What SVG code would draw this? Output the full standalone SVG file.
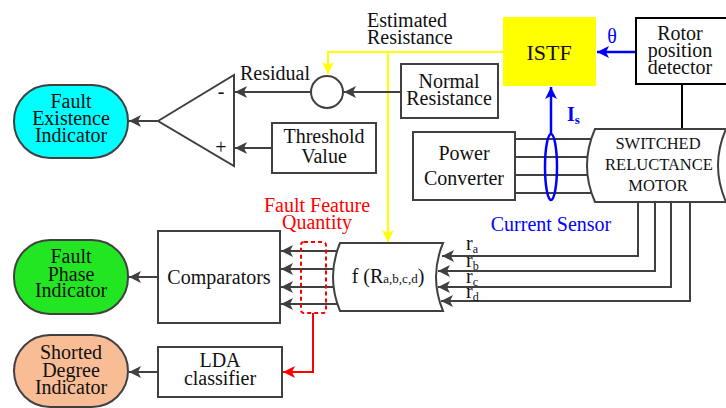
<svg xmlns="http://www.w3.org/2000/svg" width="726" height="408" viewBox="0 0 726 408">
<defs>
<style>
text{font-family:'Liberation Serif','Times New Roman',serif;font-size:20px;fill:#111;text-anchor:middle}
.box{fill:#fff;stroke:#404040;stroke-width:2}
.ln{fill:none;stroke:#404040;stroke-width:2}
.y{fill:none;stroke:#ffff00;stroke-width:2}
.b{fill:none;stroke:#0000ff;stroke-width:2.5}
.r{fill:none;stroke:#ff0000;stroke-width:2}
.pill{stroke:#404040;stroke-width:2}
</style>
<marker id="ag" markerUnits="userSpaceOnUse" markerWidth="14" markerHeight="12" refX="12" refY="6" orient="auto"><path d="M0,0 L12,6 L0,12 L3,6 Z" fill="#404040"/></marker>
<marker id="ay" markerUnits="userSpaceOnUse" markerWidth="14" markerHeight="12" refX="12" refY="6" orient="auto"><path d="M0,0 L12,6 L0,12 L3,6 Z" fill="#ffff00"/></marker>
<marker id="ab" markerUnits="userSpaceOnUse" markerWidth="14" markerHeight="12" refX="12" refY="6" orient="auto"><path d="M0,0 L12,6 L0,12 L3,6 Z" fill="#0000ff"/></marker>
<marker id="ar" markerUnits="userSpaceOnUse" markerWidth="14" markerHeight="12" refX="12" refY="6" orient="auto"><path d="M0,0 L12,6 L0,12 L3,6 Z" fill="#ff0000"/></marker>
</defs>
<rect width="726" height="408" fill="#fff"/>

<g id="connectors">
<path class="y" d="M503,52 H328 V74" marker-end="url(#ay)"/>
<path class="y" d="M388,52 V242" marker-end="url(#ay)"/>
<path class="ln" d="M401,92 H344" marker-end="url(#ag)"/>
<path class="ln" d="M311,92 H235" marker-end="url(#ag)"/>
<path class="ln" d="M272,148 H235" marker-end="url(#ag)"/>
<path class="ln" d="M158,121 H129" marker-end="url(#ag)"/>
<path class="b" d="M636,52 H597" marker-end="url(#ab)"/>
<path class="b" d="M551,134 V87" marker-end="url(#ab)"/>
<path d="M682,84 V129" fill="none" stroke="#000" stroke-width="2"/>
<path class="ln" d="M515,139 H592 M515,157 H590 M515,175 H590 M515,193 H592"/>
<path class="ln" d="M638,202 V256 H442" marker-end="url(#ag)"/>
<path class="ln" d="M655,202 V271 H438" marker-end="url(#ag)"/>
<path class="ln" d="M671,202 V287 H438" marker-end="url(#ag)"/>
<path class="ln" d="M690,202 V301 H441" marker-end="url(#ag)"/>
<path class="ln" d="M338,251 H281" marker-end="url(#ag)"/>
<path class="ln" d="M335,269 H281" marker-end="url(#ag)"/>
<path class="ln" d="M334,287 H281" marker-end="url(#ag)"/>
<path class="ln" d="M337,304 H281" marker-end="url(#ag)"/>
<path class="r" d="M313,313 V372 H283" marker-end="url(#ar)"/>
<path class="ln" d="M158,277 H129" marker-end="url(#ag)"/>
<path class="ln" d="M158,372 H129" marker-end="url(#ag)"/>
</g>

<g id="fault-existence">
<rect class="pill" x="14" y="85" width="114" height="73" rx="36" fill="#00ffff"/>
<text x="71" y="108">Fault</text><text x="71" y="125">Existence</text><text x="71" y="142">Indicator</text>
</g>
<g id="comparator-sum">
<path class="ln" d="M158,121 L234,75 L234,166 Z" fill="#fff"/>
<text x="221" y="98">-</text><text x="221" y="154">+</text>
<text x="275" y="80">Residual</text>
</g>
<g id="sum-node"><circle cx="327" cy="92" r="16" class="box"/></g>
<g id="threshold"><rect class="box" x="272" y="123" width="104" height="50"/>
<text x="324" y="143">Threshold</text><text x="324" y="163">Value</text></g>
<g id="normal-resistance"><rect class="box" x="401" y="64" width="97" height="54"/>
<text x="449" y="88">Normal</text><text x="449" y="105">Resistance</text></g>
<g id="estimated-label"><text x="367" y="27" style="text-anchor:start">Estimated</text><text x="367" y="44" style="text-anchor:start">Resistance</text></g>
<g id="istf"><rect x="503" y="17" width="93" height="69" fill="#ffff00"/>
<text x="549" y="60" style="font-size:22px">ISTF</text></g>
<g id="theta"><text x="612" y="43" style="fill:#0000ff">θ</text></g>
<g id="rotor"><rect x="636" y="18" width="92" height="66" fill="#fff" stroke="#000" stroke-width="2"/>
<text x="680" y="40">Rotor</text><text x="680" y="57">position</text><text x="680" y="74">detector</text></g>
<g id="is-label"><text x="567" y="121" style="fill:#0000ff;font-weight:bold;text-anchor:start">I<tspan style="font-size:13px" dy="3">s</tspan></text></g>
<g id="power-converter"><rect class="box" x="413" y="132" width="102" height="68"/>
<text x="464" y="160">Power</text><text x="464" y="185">Converter</text></g>
<g id="current-sensor"><ellipse cx="551" cy="167" rx="6" ry="33" class="b"/>
<text x="551" y="231" style="fill:#0000ff">Current Sensor</text></g>
<g id="motor">
<path class="box" d="M595,129 H730 V202 H595 Q579,165.5 595,129 Z"/>
<path class="ln" d="M726,129 Q710,165.5 726,202"/>
<text x="658" y="149" style="font-size:16.5px">SWITCHED</text>
<text x="659" y="170" style="font-size:16.5px">RELUCTANCE</text>
<text x="658" y="191" style="font-size:16.5px">MOTOR</text>
</g>
<g id="r-labels">
<text x="466" y="250" style="text-anchor:start">r<tspan style="font-size:12px" dy="3">a</tspan></text>
<text x="466" y="267" style="text-anchor:start">r<tspan style="font-size:12px" dy="3">b</tspan></text>
<text x="466" y="283" style="text-anchor:start">r<tspan style="font-size:12px" dy="3">c</tspan></text>
<text x="466" y="298" style="text-anchor:start">r<tspan style="font-size:12px" dy="3">d</tspan></text>
</g>
<g id="f-block">
<path class="box" d="M340,243 H443 Q429,277 443,311 H340 Q326,277 340,243 Z"/>
<text x="388" y="283">f (R<tspan style="font-size:13px">a,b,c,d</tspan>)</text>
</g>
<g id="fault-feature">
<rect x="301" y="242" width="25" height="71" rx="3" fill="none" stroke="#ff0000" stroke-width="2" stroke-dasharray="4,3"/>
<text x="317" y="212" style="fill:#ff0000">Fault Feature</text><text x="317" y="229" style="fill:#ff0000">Quantity</text>
</g>
<g id="comparators"><rect class="box" x="158" y="231" width="122" height="92"/>
<text x="219" y="284">Comparators</text></g>
<g id="fault-phase"><rect class="pill" x="14" y="240" width="114" height="74" rx="36" fill="#22e622"/>
<text x="71" y="263">Fault</text><text x="71" y="281">Phase</text><text x="71" y="297">Indicator</text></g>
<g id="lda"><rect class="box" x="158" y="347" width="124" height="50"/>
<text x="220" y="367">LDA</text><text x="220" y="385">classifier</text></g>
<g id="shorted-degree"><rect class="pill" x="14" y="335" width="114" height="72" rx="36" fill="#f9bd96"/>
<text x="71" y="359">Shorted</text><text x="71" y="377">Degree</text><text x="71" y="394">Indicator</text></g>
</svg>
